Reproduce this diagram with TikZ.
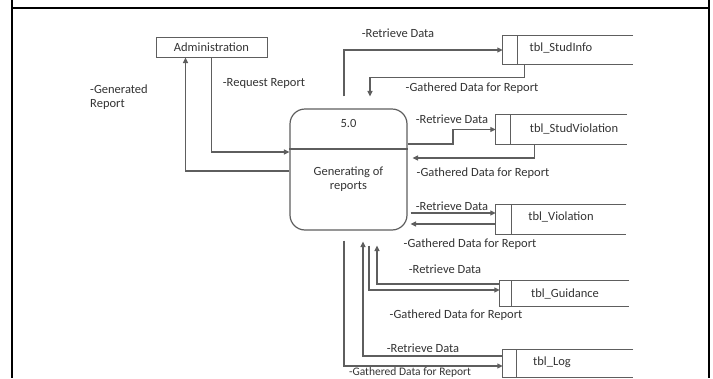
\documentclass[tikz,border=0pt]{standalone}
\usepackage{fontspec}
\setmainfont{Carlito}
\usetikzlibrary{arrows.meta,calc}
\definecolor{linegray}{HTML}{5E5E5E}
\definecolor{textgray}{HTML}{333333}

% open-ended data store: top, left and bottom edges plus the id divider
\newcommand\storeframe[2]{%
  \draw[wire] (#1.north east) -- (#1.north west) -- (#1.south west) -- (#1.south east);
  \draw[wire] ([xshift=#2]#1.north west) -- ([xshift=#2]#1.south west);}

\begin{document}
\begin{tikzpicture}[x=1pt,y=-1pt,
  every node/.style={font=\fontsize{12.5}{14}\selectfont, text=textgray},
  flow/.style={draw=linegray, line width=1.2pt, -{Triangle[length=5.5pt,width=5pt]}},
  wire/.style={draw=linegray, line width=1.2pt},
  frame/.style={draw=black, line width=2pt},
  entity/.style={draw=linegray, line width=1pt, minimum width=111pt, minimum height=20pt, inner sep=0pt},
  process/.style={draw=linegray, line width=1.2pt, rounded corners=15pt, minimum width=117pt, minimum height=121pt, inner sep=0pt},
  storebox/.style={inner sep=0pt},
  lbl/.style={inner sep=0pt}]
\useasboundingbox (0,0) rectangle (713,378);

% page frame
\draw[frame] (12,0) -- (12,378);
\draw[frame] (12,8) -- (709,8);
\draw[frame] (709,0) -- (709,378);

% external entity and process
\node[entity] (admin) at (211.5,47) {Administration};
\node[process] (proc) at (348.5,169.5) {};
\draw[wire] (proc.west |- 0,149) -- (proc.east |- 0,149);
\node[lbl] (pid) at (348.5,123) {5.0};
\node[lbl, align=center] (pname) at (348.5,179.5) {Generating of\\reports};

% data stores
\node[storebox, minimum width=130pt, minimum height=28pt] (si) at (568,50) {};
\storeframe{si}{15pt}
\node[lbl] (si-t) at (561,48) {tbl\_StudInfo};

\node[storebox, minimum width=131pt, minimum height=29pt] (sv) at (561.5,129.5) {};
\storeframe{sv}{15pt}
\node[lbl] (sv-t) at (574,129) {tbl\_StudViolation};

\node[storebox, minimum width=130pt, minimum height=29pt] (vi) at (561,219.5) {};
\storeframe{vi}{16pt}
\node[lbl] (vi-t) at (561,217) {tbl\_Violation};

\node[storebox, minimum width=129pt, minimum height=25pt] (gu) at (564.5,293.5) {};
\storeframe{gu}{12pt}
\node[lbl] (gu-t) at (565,294) {tbl\_Guidance};

\node[storebox, minimum width=130pt, minimum height=27pt] (lg) at (568,363.5) {};
\storeframe{lg}{14pt}
\node[lbl] (lg-t) at (552,362) {tbl\_Log};

% administration <-> process
\draw[flow] (proc.west |- 0,171) -| ([xshift=30pt]admin.south west);
\draw[flow] ([xshift=56pt]admin.south west) |- (proc.west |- 0,152);
\node[lbl, align=left, anchor=north west] (genrep) at (90,85) {-Generated\\Report};
\node[lbl] (reqrep) at (264,83) {-Request Report};

% tbl_StudInfo
\draw[flow] ([xshift=-4.5pt,yshift=12pt]proc.north) |- (si.west);
\draw[flow] ([xshift=22pt]si.south west) -- ++(0,13) -| ([xshift=21.5pt,yshift=12pt]proc.north);
\node[lbl] (r1) at (398,33) {-Retrieve Data};
\node[lbl] (g1) at (472,88) {-Gathered Data for Report};

% tbl_StudViolation
\draw[flow] (proc.east |- 0,144) -- (453,144) |- (sv.west);
\draw[flow] ([xshift=39pt]sv.south west) |- ([xshift=5pt]proc.east |- 0,158);
\node[lbl] (r2) at (452,119) {-Retrieve Data};
\node[lbl] (g2) at (483,173) {-Gathered Data for Report};

% tbl_Violation
\draw[flow] ([xshift=3pt]proc.east |- 0,213) -- (vi.west |- 0,213);
\draw[flow] (vi.west |- 0,224) -- ([xshift=3pt]proc.east |- 0,224);
\node[lbl] (r3) at (452,206) {-Retrieve Data};
\node[lbl] (g3) at (470,244) {-Gathered Data for Report};

% tbl_Guidance
\draw[flow] ([xshift=20.5pt,yshift=-15pt]proc.south) |- (gu.west |- 0,290);
\draw[flow] (gu.west |- 0,284) -| ([xshift=28.5pt,yshift=-15pt]proc.south);
\node[lbl] (r4) at (445,269) {-Retrieve Data};
\node[lbl] (g4) at (456,315) {-Gathered Data for Report};

% tbl_Log
\draw[flow] (lg.west |- 0,356) -| ([xshift=14.5pt,yshift=-11pt]proc.south);
\draw[flow] ([xshift=-4.5pt,yshift=-10pt]proc.south) |- (lg.west |- 0,366);
\node[lbl] (r5) at (423,348) {-Retrieve Data};
\node[lbl, anchor=north, font=\fontsize{11.5}{13}\selectfont] (g5) at (410,367.2) {-Gathered Data for Report};
\end{tikzpicture}
\end{document}
